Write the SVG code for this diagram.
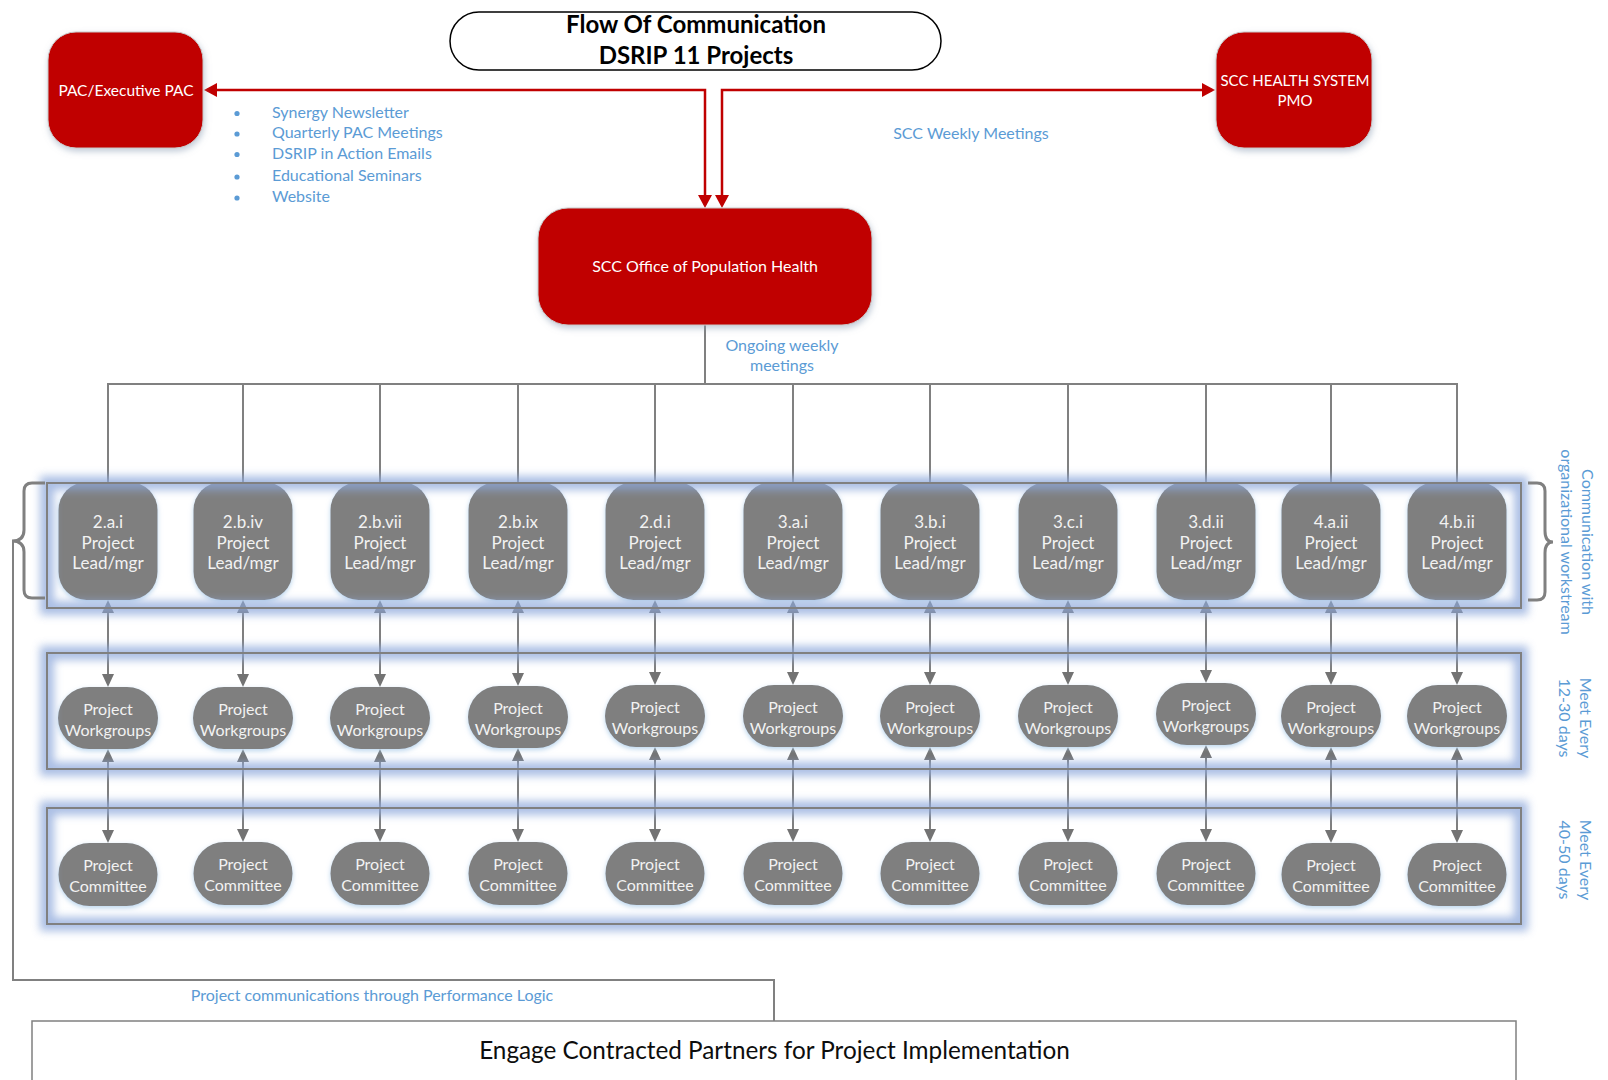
<svg xmlns="http://www.w3.org/2000/svg" width="1608" height="1080" viewBox="0 0 1608 1080">
  <defs>
    <style>
      .red { fill: #C00000; stroke: #C9C9C9; stroke-width: 1; filter: url(#redShadow); }
      .redtxt { font-family: Lato, "Liberation Sans", sans-serif; fill: #FFFFFF; text-anchor: middle; }
      .node { fill: #7F7F7F; filter: url(#nodeShadow); }
      .ntxt { font-family: Lato, "Liberation Sans", sans-serif; fill: #F2F2F2; text-anchor: middle; }
      .lt { font-size: 17px; }
      .st { font-size: 16px; }
      .blue { font-family: Lato, "Liberation Sans", sans-serif; fill: #5B9BD5; font-size: 16px; }
      .frame { fill: none; stroke: #808080; stroke-width: 2; }
      .glow { fill: none; stroke: #8EA9DB; stroke-width: 14; opacity: 0.75; filter: url(#blur); }
      .conn { fill: none; stroke: #808080; stroke-width: 2; }
      .dbl { fill: none; stroke: #7F7F7F; stroke-width: 2; marker-start: url(#gArrow); marker-end: url(#gArrow); }
      .redline { fill: none; stroke: #C00000; stroke-width: 2.5; marker-start: url(#rArrow); marker-end: url(#rArrow); }
      .brace { fill: none; stroke: #808080; stroke-width: 3; }
    </style>
    <filter id="blur" x="-5%" y="-40%" width="110%" height="180%">
      <feGaussianBlur stdDeviation="4"/>
    </filter>
    <filter id="redShadow" x="-20%" y="-20%" width="140%" height="140%">
      <feDropShadow dx="1" dy="3" stdDeviation="3" flood-color="#8497B0" flood-opacity="0.5"/>
    </filter>
    <filter id="nodeShadow" x="-20%" y="-20%" width="140%" height="150%">
      <feDropShadow dx="0" dy="2" stdDeviation="2.5" flood-color="#9DC3E6" flood-opacity="0.7"/>
    </filter>
    <marker id="rArrow" viewBox="0 0 13 14" refX="10" refY="7" markerWidth="13" markerHeight="14" markerUnits="userSpaceOnUse" orient="auto-start-reverse">
      <path d="M0,0 L13,7 L0,14 z" fill="#C00000"/>
    </marker>
    <marker id="gArrow" viewBox="0 0 13 12" refX="10" refY="6" markerWidth="13" markerHeight="12" markerUnits="userSpaceOnUse" orient="auto-start-reverse">
      <path d="M0,0 L13,6 L0,12 z" fill="#737373"/>
    </marker>
  </defs>

  <rect width="1608" height="1080" fill="#FFFFFF"/>

  <!-- title -->
  <g id="title">
    <rect x="450" y="12" width="491" height="58" rx="29" fill="#FFFFFF" stroke="#000000" stroke-width="1.5"/>
    <text x="696" y="33" font-family="Lato, 'Liberation Sans', sans-serif" font-weight="bold" font-size="24" text-anchor="middle" fill="#000000">Flow Of Communication</text>
    <text x="696" y="64" font-family="Lato, 'Liberation Sans', sans-serif" font-weight="bold" font-size="24" text-anchor="middle" fill="#000000">DSRIP 11 Projects</text>
  </g>

  <!-- connectors -->
  <g id="connectors">
    <path class="redline" d="M705,205 V90 H207"/>
    <path class="redline" d="M722,205 V90 H1212"/>
    <path class="conn" d="M705,325 V384"/>
    <path class="conn" d="M108,483 V384 H1457 V483"/>
    <path class="conn" d="M243,384 V483 M380,384 V483 M518,384 V483 M655,384 V483 M793,384 V483 M930,384 V483 M1068,384 V483 M1206,384 V483 M1331,384 V483"/>
    <!-- lead to workgroup -->
    <path class="dbl" d="M108,603 V684"/>
    <path class="dbl" d="M243,603 V684"/>
    <path class="dbl" d="M380,603 V684"/>
    <path class="dbl" d="M518,603 V683"/>
    <path class="dbl" d="M655,603 V682"/>
    <path class="dbl" d="M793,603 V682"/>
    <path class="dbl" d="M930,603 V682"/>
    <path class="dbl" d="M1068,603 V682"/>
    <path class="dbl" d="M1206,603 V680"/>
    <path class="dbl" d="M1331,603 V682"/>
    <path class="dbl" d="M1457,603 V682"/>
    <!-- workgroup to committee -->
    <path class="dbl" d="M108,752 V840"/>
    <path class="dbl" d="M243,752 V839"/>
    <path class="dbl" d="M380,752 V839"/>
    <path class="dbl" d="M518,751 V839"/>
    <path class="dbl" d="M655,750 V839"/>
    <path class="dbl" d="M793,750 V839"/>
    <path class="dbl" d="M930,750 V839"/>
    <path class="dbl" d="M1068,750 V839"/>
    <path class="dbl" d="M1206,748 V839"/>
    <path class="dbl" d="M1331,750 V840"/>
    <path class="dbl" d="M1457,750 V840"/>
    <!-- side route to partners -->
    <path class="conn" stroke-width="2.5" d="M13,541 V980 H774 V1021"/>
  </g>

  <!-- top level nodes -->
  <g id="pac">
    <rect class="red" x="48" y="32" width="155" height="116" rx="28"/>
    <text class="redtxt" x="126" y="95.5" font-size="15.5">PAC/Executive PAC</text>
  </g>
  <g id="pmo">
    <rect class="red" x="1216" y="32" width="156" height="116" rx="28"/>
    <text class="redtxt" x="1295" y="85.5" font-size="15">SCC HEALTH SYSTEM</text>
    <text class="redtxt" x="1295" y="105.5" font-size="15">PMO</text>
  </g>
  <g id="office">
    <rect class="red" x="538" y="208" width="334" height="117" rx="30"/>
    <text class="redtxt" x="705" y="272" font-size="16">SCC Office of Population Health</text>
  </g>

  <!-- channel lists -->
  <g id="pac-channels">
    <circle cx="237" cy="113.5" r="2.6" fill="#5B9BD5"/>
    <circle cx="237" cy="134" r="2.6" fill="#5B9BD5"/>
    <circle cx="237" cy="154.5" r="2.6" fill="#5B9BD5"/>
    <circle cx="237" cy="177" r="2.6" fill="#5B9BD5"/>
    <circle cx="237" cy="198" r="2.6" fill="#5B9BD5"/>
    <text class="blue" x="272" y="117.5">Synergy Newsletter</text>
    <text class="blue" x="272" y="138">Quarterly PAC Meetings</text>
    <text class="blue" x="272" y="158.5">DSRIP in Action Emails</text>
    <text class="blue" x="272" y="181">Educational Seminars</text>
    <text class="blue" x="272" y="202">Website</text>
  </g>
  <text class="blue" x="971" y="139" text-anchor="middle">SCC Weekly Meetings</text>
  <text class="blue" x="782" y="350.5" text-anchor="middle">Ongoing weekly</text>
  <text class="blue" x="782" y="371" text-anchor="middle">meetings</text>

  <!-- project leads -->
  <g id="lead-2ai"><rect class="node" x="58.5" y="482" width="99" height="118" rx="28"/><text class="ntxt lt" x="108" y="528">2.a.i</text><text class="ntxt lt" x="108" y="548.5">Project</text><text class="ntxt lt" x="108" y="569">Lead/mgr</text></g>
  <g id="lead-2biv"><rect class="node" x="193.5" y="482" width="99" height="118" rx="28"/><text class="ntxt lt" x="243" y="528">2.b.iv</text><text class="ntxt lt" x="243" y="548.5">Project</text><text class="ntxt lt" x="243" y="569">Lead/mgr</text></g>
  <g id="lead-2bvii"><rect class="node" x="330.5" y="482" width="99" height="118" rx="28"/><text class="ntxt lt" x="380" y="528">2.b.vii</text><text class="ntxt lt" x="380" y="548.5">Project</text><text class="ntxt lt" x="380" y="569">Lead/mgr</text></g>
  <g id="lead-2bix"><rect class="node" x="468.5" y="482" width="99" height="118" rx="28"/><text class="ntxt lt" x="518" y="528">2.b.ix</text><text class="ntxt lt" x="518" y="548.5">Project</text><text class="ntxt lt" x="518" y="569">Lead/mgr</text></g>
  <g id="lead-2di"><rect class="node" x="605.5" y="482" width="99" height="118" rx="28"/><text class="ntxt lt" x="655" y="528">2.d.i</text><text class="ntxt lt" x="655" y="548.5">Project</text><text class="ntxt lt" x="655" y="569">Lead/mgr</text></g>
  <g id="lead-3ai"><rect class="node" x="743.5" y="482" width="99" height="118" rx="28"/><text class="ntxt lt" x="793" y="528">3.a.i</text><text class="ntxt lt" x="793" y="548.5">Project</text><text class="ntxt lt" x="793" y="569">Lead/mgr</text></g>
  <g id="lead-3bi"><rect class="node" x="880.5" y="482" width="99" height="118" rx="28"/><text class="ntxt lt" x="930" y="528">3.b.i</text><text class="ntxt lt" x="930" y="548.5">Project</text><text class="ntxt lt" x="930" y="569">Lead/mgr</text></g>
  <g id="lead-3ci"><rect class="node" x="1018.5" y="482" width="99" height="118" rx="28"/><text class="ntxt lt" x="1068" y="528">3.c.i</text><text class="ntxt lt" x="1068" y="548.5">Project</text><text class="ntxt lt" x="1068" y="569">Lead/mgr</text></g>
  <g id="lead-3dii"><rect class="node" x="1156.5" y="482" width="99" height="118" rx="28"/><text class="ntxt lt" x="1206" y="528">3.d.ii</text><text class="ntxt lt" x="1206" y="548.5">Project</text><text class="ntxt lt" x="1206" y="569">Lead/mgr</text></g>
  <g id="lead-4aii"><rect class="node" x="1281.5" y="482" width="99" height="118" rx="28"/><text class="ntxt lt" x="1331" y="528">4.a.ii</text><text class="ntxt lt" x="1331" y="548.5">Project</text><text class="ntxt lt" x="1331" y="569">Lead/mgr</text></g>
  <g id="lead-4bii"><rect class="node" x="1407.5" y="482" width="99" height="118" rx="28"/><text class="ntxt lt" x="1457" y="528">4.b.ii</text><text class="ntxt lt" x="1457" y="548.5">Project</text><text class="ntxt lt" x="1457" y="569">Lead/mgr</text></g>

  <!-- workgroups -->
  <g id="wg-2ai"><rect class="node" x="58" y="687" width="100" height="62" rx="31"/><text class="ntxt st" x="108" y="715">Project</text><text class="ntxt st" x="108" y="735.5">Workgroups</text></g>
  <g id="wg-2biv"><rect class="node" x="193" y="687" width="100" height="62" rx="31"/><text class="ntxt st" x="243" y="715">Project</text><text class="ntxt st" x="243" y="735.5">Workgroups</text></g>
  <g id="wg-2bvii"><rect class="node" x="330" y="687" width="100" height="62" rx="31"/><text class="ntxt st" x="380" y="715">Project</text><text class="ntxt st" x="380" y="735.5">Workgroups</text></g>
  <g id="wg-2bix"><rect class="node" x="468" y="686" width="100" height="62" rx="31"/><text class="ntxt st" x="518" y="714">Project</text><text class="ntxt st" x="518" y="734.5">Workgroups</text></g>
  <g id="wg-2di"><rect class="node" x="605" y="685" width="100" height="62" rx="31"/><text class="ntxt st" x="655" y="713">Project</text><text class="ntxt st" x="655" y="733.5">Workgroups</text></g>
  <g id="wg-3ai"><rect class="node" x="743" y="685" width="100" height="62" rx="31"/><text class="ntxt st" x="793" y="713">Project</text><text class="ntxt st" x="793" y="733.5">Workgroups</text></g>
  <g id="wg-3bi"><rect class="node" x="880" y="685" width="100" height="62" rx="31"/><text class="ntxt st" x="930" y="713">Project</text><text class="ntxt st" x="930" y="733.5">Workgroups</text></g>
  <g id="wg-3ci"><rect class="node" x="1018" y="685" width="100" height="62" rx="31"/><text class="ntxt st" x="1068" y="713">Project</text><text class="ntxt st" x="1068" y="733.5">Workgroups</text></g>
  <g id="wg-3dii"><rect class="node" x="1156" y="683" width="100" height="62" rx="31"/><text class="ntxt st" x="1206" y="711">Project</text><text class="ntxt st" x="1206" y="731.5">Workgroups</text></g>
  <g id="wg-4aii"><rect class="node" x="1281" y="685" width="100" height="62" rx="31"/><text class="ntxt st" x="1331" y="713">Project</text><text class="ntxt st" x="1331" y="733.5">Workgroups</text></g>
  <g id="wg-4bii"><rect class="node" x="1407" y="685" width="100" height="62" rx="31"/><text class="ntxt st" x="1457" y="713">Project</text><text class="ntxt st" x="1457" y="733.5">Workgroups</text></g>

  <!-- committees -->
  <g id="pc-2ai"><rect class="node" x="58.5" y="843" width="99" height="63" rx="31"/><text class="ntxt st" x="108" y="871">Project</text><text class="ntxt st" x="108" y="892">Committee</text></g>
  <g id="pc-2biv"><rect class="node" x="193.5" y="842" width="99" height="63" rx="31"/><text class="ntxt st" x="243" y="870">Project</text><text class="ntxt st" x="243" y="891">Committee</text></g>
  <g id="pc-2bvii"><rect class="node" x="330.5" y="842" width="99" height="63" rx="31"/><text class="ntxt st" x="380" y="870">Project</text><text class="ntxt st" x="380" y="891">Committee</text></g>
  <g id="pc-2bix"><rect class="node" x="468.5" y="842" width="99" height="63" rx="31"/><text class="ntxt st" x="518" y="870">Project</text><text class="ntxt st" x="518" y="891">Committee</text></g>
  <g id="pc-2di"><rect class="node" x="605.5" y="842" width="99" height="63" rx="31"/><text class="ntxt st" x="655" y="870">Project</text><text class="ntxt st" x="655" y="891">Committee</text></g>
  <g id="pc-3ai"><rect class="node" x="743.5" y="842" width="99" height="63" rx="31"/><text class="ntxt st" x="793" y="870">Project</text><text class="ntxt st" x="793" y="891">Committee</text></g>
  <g id="pc-3bi"><rect class="node" x="880.5" y="842" width="99" height="63" rx="31"/><text class="ntxt st" x="930" y="870">Project</text><text class="ntxt st" x="930" y="891">Committee</text></g>
  <g id="pc-3ci"><rect class="node" x="1018.5" y="842" width="99" height="63" rx="31"/><text class="ntxt st" x="1068" y="870">Project</text><text class="ntxt st" x="1068" y="891">Committee</text></g>
  <g id="pc-3dii"><rect class="node" x="1156.5" y="842" width="99" height="63" rx="31"/><text class="ntxt st" x="1206" y="870">Project</text><text class="ntxt st" x="1206" y="891">Committee</text></g>
  <g id="pc-4aii"><rect class="node" x="1281.5" y="843" width="99" height="63" rx="31"/><text class="ntxt st" x="1331" y="871">Project</text><text class="ntxt st" x="1331" y="892">Committee</text></g>
  <g id="pc-4bii"><rect class="node" x="1407.5" y="843" width="99" height="63" rx="31"/><text class="ntxt st" x="1457" y="871">Project</text><text class="ntxt st" x="1457" y="892">Committee</text></g>

  <!-- row frames with soft blue glow -->
  <g id="row-frames">
    <rect class="glow" x="47" y="483" width="1474" height="125"/>
    <rect class="glow" x="47" y="653" width="1474" height="116"/>
    <rect class="glow" x="47" y="808" width="1474" height="116"/>
    <rect class="frame" x="47" y="483" width="1474" height="125"/>
    <rect class="frame" x="47" y="653" width="1474" height="116"/>
    <rect class="frame" x="47" y="808" width="1474" height="116"/>
  </g>

  <!-- braces -->
  <path class="brace" d="M45,483 H32 Q24,483 24,491 V530 Q24,541 12,541 Q24,541 24,552 V590 Q24,598 32,598 H45"/>
  <path class="brace" d="M1528,483 H1537 Q1545,483 1545,491 V531 Q1545,542 1553,542 Q1545,542 1545,553 V592 Q1545,600 1537,600 H1528"/>

  <!-- side notes -->
  <text class="blue" transform="translate(1582,542) rotate(90)" text-anchor="middle">Communication with</text>
  <text class="blue" transform="translate(1561,542) rotate(90)" text-anchor="middle">organizational workstream</text>
  <text class="blue" transform="translate(1580,718) rotate(90)" text-anchor="middle">Meet Every</text>
  <text class="blue" transform="translate(1559,718) rotate(90)" text-anchor="middle">12-30 days</text>
  <text class="blue" transform="translate(1580,860) rotate(90)" text-anchor="middle">Meet Every</text>
  <text class="blue" transform="translate(1559,860) rotate(90)" text-anchor="middle">40-50 days</text>

  <text class="blue" x="372" y="1001" text-anchor="middle">Project communications through Performance Logic</text>

  <!-- partners -->
  <g id="partners">
    <rect x="32" y="1021" width="1484" height="80" fill="#FFFFFF" stroke="#808080" stroke-width="1.5"/>
    <text x="774.5" y="1059" font-family="Lato, 'Liberation Sans', sans-serif" font-size="24.3" text-anchor="middle" fill="#0D0D0D">Engage Contracted Partners for Project Implementation</text>
  </g>
</svg>
